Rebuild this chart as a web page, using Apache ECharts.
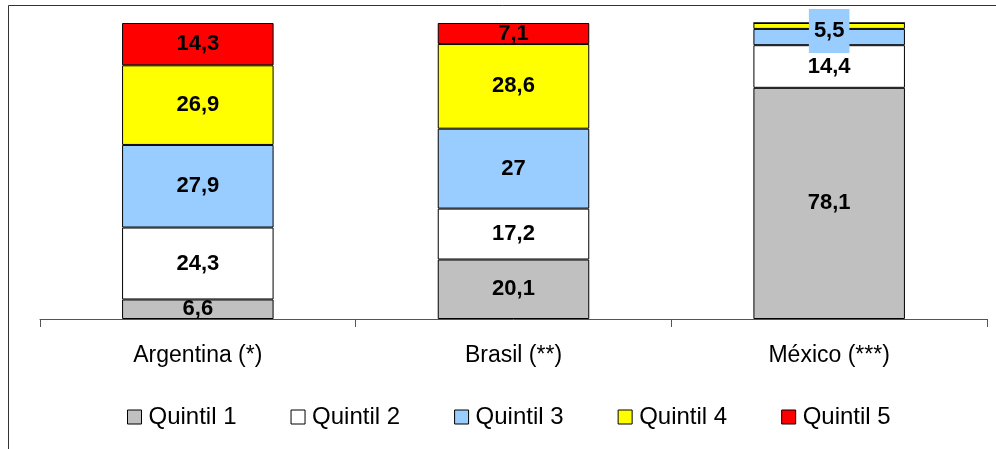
<!DOCTYPE html>
<html><head><meta charset="utf-8">
<script src="https://cdn.jsdelivr.net/npm/echarts@6/dist/echarts.min.js"></script>
<style>html,body{margin:0;padding:0;background:#fff}#c{width:996px;height:449px}</style>
</head><body><div id="c"></div>
<script>
var categories = ['Argentina (*)', 'Brasil (**)', 'México (***)'];
var seriesNames = ['Quintil 1', 'Quintil 2', 'Quintil 3', 'Quintil 4', 'Quintil 5'];
var q1 = [6.6, 20.1, 78.1];
var q2 = [24.3, 17.2, 14.4];
var q3 = [27.9, 27, 5.5];
var q4 = [26.9, 28.6, 2.0];
var q5 = [14.3, 7.1, 0];
var showLabel = [[true,true,true],[true,true,true],[true,true,true],[true,true,false],[true,true,false]];
var colors = ['#C0C0C0', '#FFFFFF', '#99CCFF', '#FFFF00', '#FF0000'];
var values = [q1, q2, q3, q4, q5];
var FONT = 'Arial, "Liberation Sans", sans-serif';

var chart = echarts.init(document.getElementById('c'), null, {renderer: 'canvas'});
var series = values.map(function (arr, si) {
  return {
    name: seriesNames[si],
    type: 'bar',
    stack: 'total',
    barWidth: '48%',
    itemStyle: {color: colors[si], borderColor: '#000', borderWidth: 1},
    data: arr.map(function (v, ci) {
      var d = {value: v};
      if (!showLabel[si][ci]) d.label = {show: false};
      if (si === 2 && ci === 2) d.label = {show: true, backgroundColor: '#99CCFF', padding: [9, 5, 13, 5], offset: [0, -6]};
      return d;
    }),
    label: {
      show: true, position: 'inside', color: '#000', fontFamily: FONT,
      fontWeight: 'bold', fontSize: 22,
      formatter: function (p) { return String(p.value).replace('.', ','); }
    }
  };
});

chart.setOption({
  animation: false,
  backgroundColor: '#fff',
  textStyle: {fontFamily: FONT},
  graphic: [{type: 'rect', shape: {x: 8.5, y: 5.5, width: 1200, height: 600}, style: {fill: 'none', stroke: '#333', lineWidth: 1}, silent: true, z: -10}],
  grid: {left: 40, right: 9, top: 23, bottom: 130},
  legend: {
    left: 122, top: 400, itemWidth: 14, itemHeight: 14, itemGap: 54,
    icon: 'rect',
    textStyle: {fontSize: 24, color: '#000', fontFamily: FONT, padding: [0,0,0,2]},
    itemStyle: {borderColor: '#000', borderWidth: 1},
    data: seriesNames
  },
  xAxis: {
    type: 'category', data: categories,
    axisLine: {lineStyle: {color: '#555', width: 1}},
    axisTick: {show: true, length: 8, lineStyle: {color: '#555'}},
    axisLabel: {color: '#000', fontSize: 23, margin: 25, fontFamily: FONT}
  },
  yAxis: {type: 'value', min: 0, max: 100, show: false, splitLine: {show: false}},
  series: series
});
</script></body></html>
